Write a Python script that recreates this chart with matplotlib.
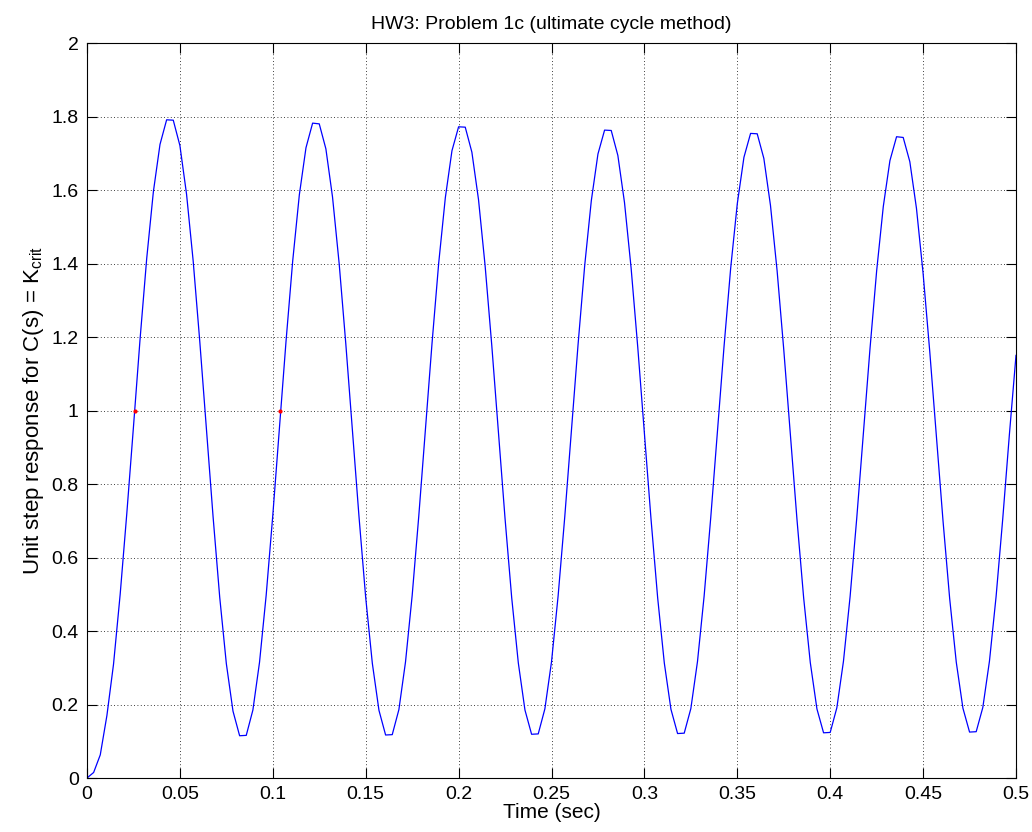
import numpy as np
import matplotlib
matplotlib.use("Agg")
import matplotlib.pyplot as plt

plt.rcParams["font.family"] = ["Liberation Sans", "DejaVu Sans"]
plt.rcParams["mathtext.default"] = "regular"

# step response samples (141 samples over 0..0.5 s)
t_end = 0.5
n_samples = 141
response = [
    0.000, 0.015, 0.063, 0.170, 0.310, 0.500, 0.720, 0.955, 1.195, 1.414,
    1.595, 1.724, 1.791, 1.790, 1.721, 1.589, 1.407, 1.187, 0.949, 0.711,
    0.492, 0.311, 0.182, 0.115, 0.116, 0.185, 0.315, 0.497, 0.715, 0.953,
    1.190, 1.407, 1.587, 1.715, 1.782, 1.780, 1.712, 1.581, 1.400, 1.182,
    0.945, 0.709, 0.491, 0.312, 0.184, 0.117, 0.118, 0.186, 0.316, 0.496,
    0.713, 0.949, 1.184, 1.401, 1.579, 1.707, 1.772, 1.771, 1.703, 1.574,
    1.393, 1.177, 0.942, 0.706, 0.491, 0.313, 0.185, 0.119, 0.120, 0.188,
    0.316, 0.496, 0.711, 0.945, 1.179, 1.394, 1.571, 1.698, 1.763, 1.762,
    1.694, 1.566, 1.387, 1.172, 0.938, 0.704, 0.490, 0.313, 0.187, 0.121,
    0.122, 0.189, 0.317, 0.495, 0.709, 0.942, 1.174, 1.387, 1.563, 1.689,
    1.754, 1.753, 1.686, 1.558, 1.380, 1.166, 0.934, 0.702, 0.490, 0.314,
    0.188, 0.123, 0.124, 0.191, 0.318, 0.494, 0.707, 0.938, 1.169, 1.380,
    1.555, 1.680, 1.745, 1.743, 1.677, 1.550, 1.373, 1.161, 0.931, 0.700,
    0.489, 0.315, 0.190, 0.125, 0.126, 0.192, 0.318, 0.494, 0.705, 0.934,
    1.150,
]
time = np.linspace(0, t_end, n_samples)

# red markers where response crosses 1
cross_t = [0.0257, 0.104]
cross_y = [1.0, 1.0]

xticks = [0, 0.05, 0.1, 0.15, 0.2, 0.25, 0.3, 0.35, 0.4, 0.45, 0.5]
xticklabels = ["0", "0.05", "0.1", "0.15", "0.2", "0.25", "0.3", "0.35", "0.4", "0.45", "0.5"]
yticks = [0, 0.2, 0.4, 0.6, 0.8, 1, 1.2, 1.4, 1.6, 1.8, 2]
yticklabels = ["0", "0.2", "0.4", "0.6", "0.8", "1", "1.2", "1.4", "1.6", "1.8", "2"]

fig = plt.figure(figsize=(10.32, 8.32), dpi=100)
ax = fig.add_axes([0.0843, 0.0649, 0.9002, 0.8834])

ax.plot(time, response, color="#0000ff", lw=0.9)
ax.plot(cross_t, cross_y, "r.", ms=4)

ax.set_xlim(0, 0.5)
ax.set_ylim(0, 2)
ax.set_xticks(xticks)
ax.set_xticklabels(xticklabels)
ax.set_yticks(yticks)
ax.set_yticklabels(yticklabels)
ax.grid(True, color="black", ls=(0, (1, 3)), lw=0.6)
ax.tick_params(direction="in", length=7, width=0.8, labelsize=14,
               top=True, right=True, pad=6)
for s in ax.spines.values():
    s.set_linewidth(0.8)

ax.set_title("HW3: Problem 1c (ultimate cycle method)", fontsize=14, pad=10)
ax.set_xlabel("Time (sec)", fontsize=15, labelpad=0)
ax.set_ylabel("Unit step response for C(s) = K$_{crit}$", fontsize=16, labelpad=4)

fig.savefig("out.png", dpi=100)
